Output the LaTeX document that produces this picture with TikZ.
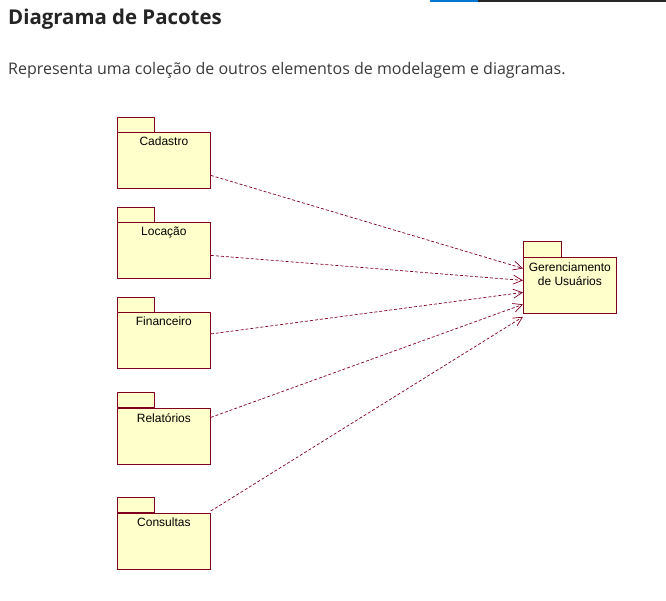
\documentclass[tikz,border=0pt]{standalone}
\usepackage{fontspec}
\setmainfont{Liberation Sans}
\newfontfamily\webfont{Open Sans}
\usetikzlibrary{positioning,arrows.meta}

\definecolor{umlred}{RGB}{128,0,32}
\definecolor{umlfill}{RGB}{255,255,204}
\definecolor{webtext}{RGB}{36,36,36}
\definecolor{webblue}{RGB}{0,120,212}

\tikzset{
  pkgtab/.style={rectangle, draw=umlred, fill=umlfill, line width=0.8pt, minimum width=37pt, minimum height=15pt, inner sep=0pt},
  pkgbody/.style={rectangle, draw=umlred, fill=umlfill, line width=0.8pt, minimum width=93pt, minimum height=56pt, inner sep=0pt},
  pkgname/.style={font=\fontsize{12}{14}\selectfont, align=center, inner sep=0pt},
  depline/.style={draw=umlred, line width=0.7pt, dash pattern=on 3pt off 2pt, -{Straight Barb[length=9pt,width=9pt]}}
}

\begin{document}
\begin{tikzpicture}[x=1pt, y=-1pt]
    \useasboundingbox (0,0) rectangle (666,600);
    % faixa no topo
    \fill[webblue] (430,0) rectangle (478,1.5);
    \fill[black!85] (478,0) rectangle (666,1.5);

    \node (titulo) [anchor=base west, text=webtext, inner sep=0pt, font=\webfont\bfseries\fontsize{20.4}{24}\selectfont] at (8,24) {Diagrama de Pacotes};
    \node (descr) [anchor=base west, text=webtext!90, inner sep=0pt, font=\webfont\fontsize{16}{19}\selectfont] at (8,74) {Representa uma coleção de outros elementos de modelagem e diagramas.};

    % pacotes
    \node (cadtab) [pkgtab, anchor=north west] at (117,117) {};
    \node (cad) [pkgbody, anchor=north west] at (117,132) {};
    \node (cadname) [pkgname, below=5pt of cad.north] {Cadastro};

    \node (loctab) [pkgtab, anchor=north west] at (117,207) {};
    \node (loc) [pkgbody, anchor=north west] at (117,222) {};
    \node (locname) [pkgname, below=5pt of loc.north] {Locação};

    \node (fintab) [pkgtab, anchor=north west] at (117,297) {};
    \node (fin) [pkgbody, anchor=north west] at (117,312) {};
    \node (finname) [pkgname, below=5pt of fin.north] {Financeiro};

    \node (reltab) [pkgtab, anchor=north west] at (117,392) {};
    \node (rel) [pkgbody, anchor=north west] at (117,408) {};
    \node (relname) [pkgname, below=5pt of rel.north] {Relatórios};

    \node (contab) [pkgtab, anchor=north west] at (117,497) {};
    \node (con) [pkgbody, anchor=north west] at (117,513) {};
    \node (conname) [pkgname, below=5pt of con.north] {Consultas};

    \node (gertab) [pkgtab, anchor=north west, minimum width=38pt, minimum height=16pt] at (523,241) {};
    \node (ger) [pkgbody, anchor=north west] at (523,257) {};
    \node (gername) [pkgname, below=6pt of ger.north] {Gerenciamento\\de Usuários};

    % dependencias
    \draw[depline] ([yshift=-15pt]cad.east) -- ([yshift=17pt]ger.west);
    \draw[depline] ([yshift=-5pt]loc.east) -- ([yshift=5pt]ger.west);
    \draw[depline] ([yshift=6.5pt]fin.east) -- ([yshift=-7pt]ger.west);
    \draw[depline] ([yshift=19pt]rel.east) -- ([yshift=-19pt]ger.west);
    \draw[depline] ([yshift=2pt]con.north east) -- ([yshift=-3pt]ger.south west);
\end{tikzpicture}
\end{document}
